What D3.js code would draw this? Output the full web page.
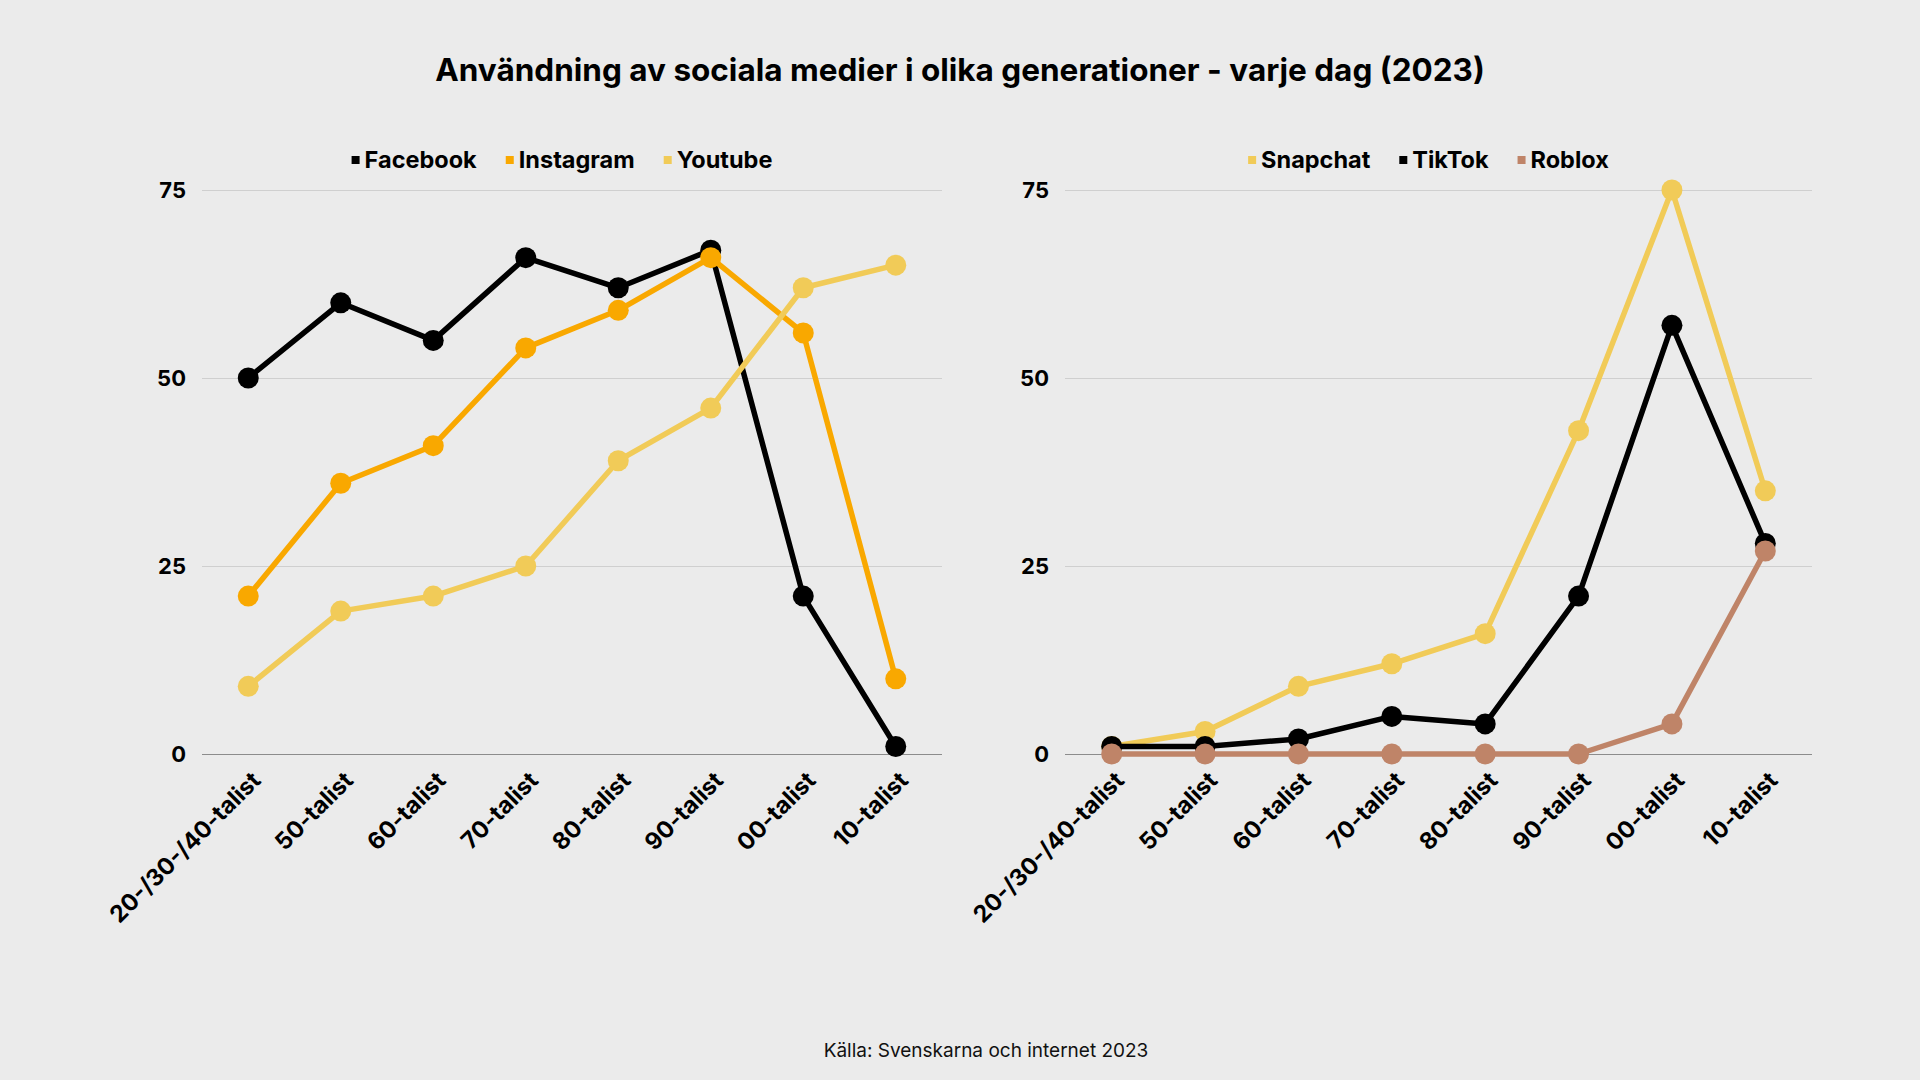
<!DOCTYPE html>
<html>
<head>
<meta charset="utf-8">
<script src="https://cdn.jsdelivr.net/npm/d3@7"></script>
<style>
  html, body { margin: 0; padding: 0; background: #ebebeb; }
  svg { display: block; font-family: Inter, "Open Sans", sans-serif; }
</style>
</head>
<body>
<script>
// kategorier (generationer)
const categories = ["20-/30-/40-talist", "50-talist", "60-talist", "70-talist",
  "80-talist", "90-talist", "00-talist", "10-talist"];

// värden per tjänst, andel som använder varje dag
const facebook = [50, 60, 55, 66, 62, 67, 21, 1];
const instagram = [21, 36, 41, 54, 59, 66, 56, 10];
const youtube = [9, 19, 21, 25, 39, 46, 62, 65];
const snapchat = [1, 3, 9, 12, 16, 43, 75, 35];
const tiktok = [1, 1, 2, 5, 4, 21, 57, 28];
const roblox = [0, 0, 0, 0, 0, 0, 4, 27];

const yTicks = [0, 25, 50, 75];

const width = 1920;
const height = 1080;

const colors = {
  black: "#000000",
  orange: "#f9a800",
  yellow: "#f1cb58",
  brown: "#bf8468"
};

const svg = d3.select("body").append("svg")
  .attr("width", width)
  .attr("height", height);

svg.append("rect")
  .attr("width", width)
  .attr("height", height)
  .attr("fill", "#ebebeb");

// rubrik
svg.append("text")
  .attr("x", width / 2)
  .attr("y", 81)
  .attr("text-anchor", "middle")
  .style("font-size", "31.5px")
  .style("font-weight", 700)
  .attr("fill", "#000")
  .text("Användning av sociala medier i olika generationer - varje dag (2023)");

// källa
svg.append("text")
  .attr("x", 986)
  .attr("y", 1057)
  .attr("text-anchor", "middle")
  .style("font-size", "19px")
  .attr("fill", "#111")
  .text("Källa: Svenskarna och internet 2023");

function drawPanel(left, right, series) {
  const g = svg.append("g");

  const x = d3.scaleBand().domain(categories).range([left, right]);
  const y = d3.scaleLinear().domain([0, 75]).range([754, 190]);
  const cx = (c) => x(c) + x.bandwidth() / 2;

  // y-axel med stödlinjer
  const yAxis = g.append("g")
    .attr("transform", `translate(${left},0)`)
    .call(d3.axisLeft(y).tickValues(yTicks).tickSize(-(right - left)).tickPadding(16));
  yAxis.select(".domain").remove();
  yAxis.selectAll(".tick line")
    .attr("stroke", (d) => (d === 0 ? "#8c8c8c" : "#cfcfcf"))
    .attr("stroke-width", 1.2);
  yAxis.selectAll(".tick text")
    .attr("fill", "#000")
    .style("font-family", "Inter, sans-serif")
    .style("font-size", "22px")
    .style("font-weight", 700);

  // x-etiketter, snett
  g.selectAll(".xlabel")
    .data(categories)
    .join("text")
    .attr("class", "xlabel")
    .attr("transform", (d) => `translate(${cx(d) + 8},${776}) rotate(-45)`)
    .attr("text-anchor", "end")
    .attr("dy", "0.35em")
    .style("font-size", "23.5px")
    .style("font-weight", 700)
    .attr("fill", "#000")
    .text((d) => d);

  const line = d3.line()
    .x((d, i) => cx(categories[i]))
    .y((d) => y(d));

  series.forEach((s) => {
    g.append("path")
      .datum(s.values)
      .attr("d", line)
      .attr("fill", "none")
      .attr("stroke", s.color)
      .attr("stroke-width", 5.5)
      .attr("stroke-linejoin", "round");
    g.selectAll(null)
      .data(s.values)
      .join("circle")
      .attr("cx", (d, i) => cx(categories[i]))
      .attr("cy", (d) => y(d))
      .attr("r", 10.5)
      .attr("fill", s.color);
  });

  // legend, centrerad över diagrammet
  const legend = g.append("g");
  let offset = 0;
  series.forEach((s) => {
    const item = legend.append("g").attr("transform", `translate(${offset},0)`);
    item.append("rect")
      .attr("x", 0)
      .attr("y", -4)
      .attr("width", 8)
      .attr("height", 8)
      .attr("fill", s.color);
    const t = item.append("text")
      .attr("x", 13)
      .attr("dy", "0.35em")
      .style("font-size", "23.5px")
      .style("font-weight", 700)
      .attr("fill", "#000")
      .text(s.name);
    offset += 13 + t.node().getComputedTextLength() + 29;
  });
  const legendWidth = offset - 29;
  legend.attr("transform", `translate(${(left + right) / 2 - 10 - legendWidth / 2},160)`);
}

drawPanel(202, 942, [
  { name: "Facebook", values: facebook, color: colors.black },
  { name: "Instagram", values: instagram, color: colors.orange },
  { name: "Youtube", values: youtube, color: colors.yellow }
]);

drawPanel(1065, 1812, [
  { name: "Snapchat", values: snapchat, color: colors.yellow },
  { name: "TikTok", values: tiktok, color: colors.black },
  { name: "Roblox", values: roblox, color: colors.brown }
]);
</script>
</body>
</html>
